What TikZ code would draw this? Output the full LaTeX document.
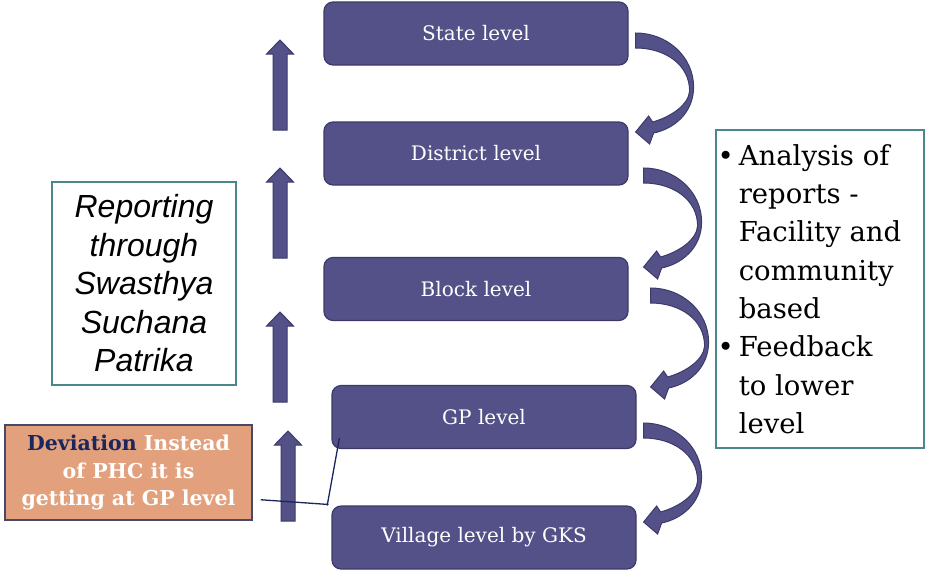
\documentclass[tikz,border=0pt]{standalone}
\usepackage{fontspec}
\setmainfont{DejaVu Serif}
\newfontfamily\arialfont{Liberation Sans}
\usepackage{tikz}
\usetikzlibrary{calc}
\definecolor{boxfill}{RGB}{83,81,135}
\definecolor{boxline}{RGB}{60,58,105}
\definecolor{tealline}{RGB}{74,136,140}
\definecolor{devfill}{RGB}{226,160,124}
\definecolor{devline}{RGB}{72,72,104}
\definecolor{devnavy}{RGB}{26,38,92}
\tikzset{levelbox/.style={draw=boxline, line width=1.2pt, fill=boxfill, rounded corners=9pt, minimum width=304pt, minimum height=63pt, text=white, font=\fontsize{20}{24}\selectfont},
	blockarrow/.style={fill=boxfill, draw=boxline, line width=1pt},
	uparrow/.pic={\filldraw[blockarrow] (-7,0) -- (-7,-76) -- (-13.5,-76) -- (0,-90) -- (13.5,-76) -- (7,-76) -- (7,0) -- cycle;},
	curvarrow/.pic={\filldraw[blockarrow] (0,0) .. controls (32,0) and (58,24) .. (58,54) .. controls (58,80) and (38,96) .. (18,100) -- (14,111) -- (0,99) -- (13,83) -- (17,89) .. controls (35,84) and (53,72) .. (54,58) .. controls (54,32) and (30,15) .. (0,15) -- cycle;}}

\begin{document}
\begin{tikzpicture}[x=1pt,y=-1pt]
		 \useasboundingbox (0,0) rectangle (925,571);
		 
		 % levels
		 \node[levelbox] (state) at (476,33.5) {State level};
		 \node[levelbox] (district) at (476,153.5) {District level};
		 \node[levelbox] (block) at (476,289) {Block level};
		 \node[levelbox] (gp) at (484,417) {GP level};
		 \node[levelbox] (village) at (484,537.5) {Village level by GKS};
		 
		 % feedback going down
		 \pic at ($(state.east)+(7,-0.5)$) {curvarrow};
		 \pic at ($(district.east)+(15,14.5)$) {curvarrow};
		 \pic at ($(block.east)+(22,-1)$) {curvarrow};
		 \pic at ($(gp.east)+(7,6)$) {curvarrow};
		 
		 % reporting going up
		 \pic at (280,130) {uparrow};
		 \pic at (280,258) {uparrow};
		 \pic at (280,402) {uparrow};
		 \pic at (288,521) {uparrow};
		 
		 \node[draw=tealline, line width=1.5pt, minimum width=184pt, minimum height=203pt, align=center, font=\arialfont\itshape\fontsize{32}{38.5}\selectfont] (report) at (144,283.5) {Reporting\\through\\Swasthya\\Suchana\\Patrika};
		 
		 \node[draw=tealline, line width=1.5pt, minimum width=208pt, minimum height=318pt, align=left, font=\fontsize{27.5}{38.3}\selectfont] (analysis) at (820,289) {\llap{\textbullet\hspace{5pt}}Analysis of\\reports -\\Facility and\\community\\based\\\llap{\textbullet\hspace{5pt}}Feedback\\to lower\\level};
		 
		 \node[draw=devline, line width=1.5pt, fill=devfill, minimum width=247pt, minimum height=95pt, align=center, text=white, font=\bfseries\fontsize{20.5}{27.5}\selectfont] (dev) at (128.5,472.5) {{\color{devnavy}Deviation} Instead\\of PHC it is\\getting at GP level};
		 
		 \coordinate (devend) at ($(dev.south east)+(8,-21)$);
		 \coordinate (kink) at ($(village.north west)+(-4,-1)$);
		 \coordinate (gpend) at ($(gp.south west)+(8,-11)$);
		 \draw[devnavy, line width=1.3pt] (devend) -- (kink) -- (gpend);
		 \fill[devnavy] (kink) circle (1.3);
\end{tikzpicture}
\end{document}
